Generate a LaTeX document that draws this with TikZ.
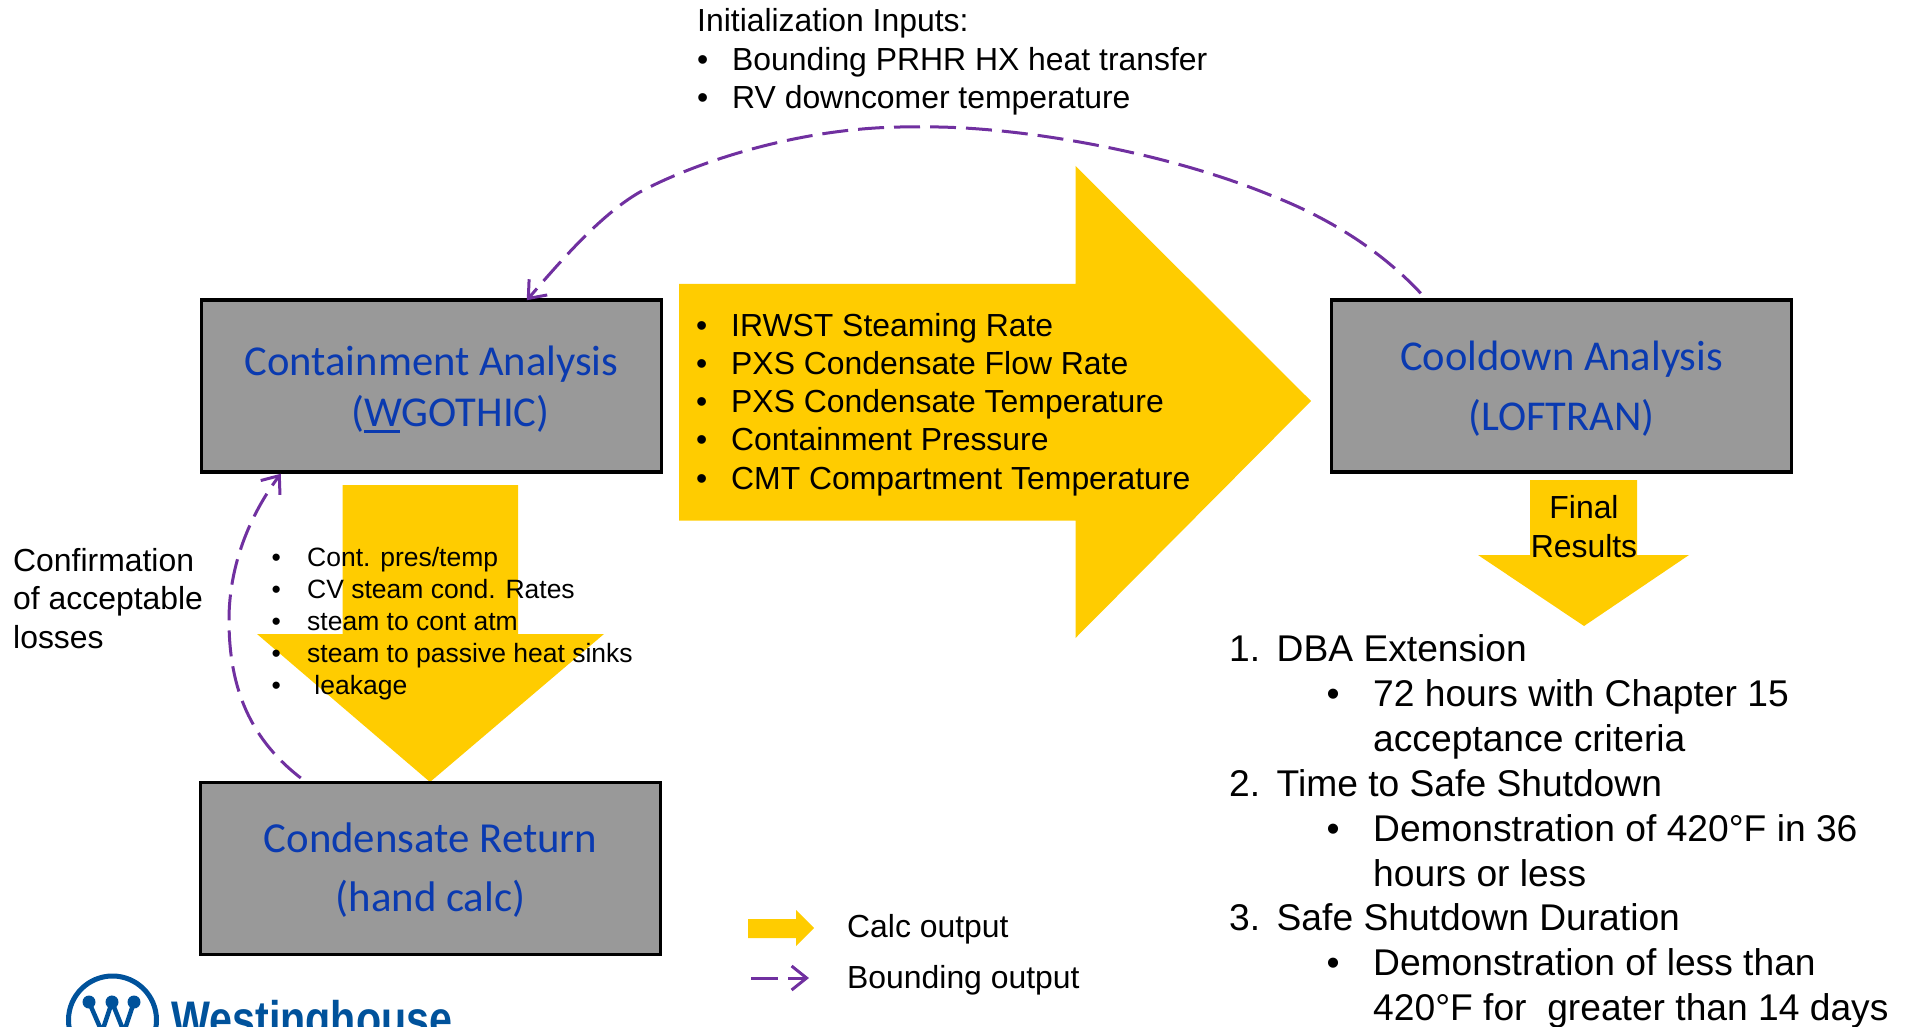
\documentclass[tikz,border=0pt]{standalone}
\usepackage{fontspec}
\usepackage{graphicx}
\setmainfont{Liberation Sans}
\newfontfamily\calibrifont{Carlito}
\usetikzlibrary{arrows.meta}
\definecolor{calcyellow}{HTML}{FFCC00}
\definecolor{boundpurple}{HTML}{7030A0}
\definecolor{boxgray}{HTML}{999999}
\definecolor{boxblue}{HTML}{0A3AB0}
\definecolor{wblue}{HTML}{00529B}
\newcommand{\twolines}[5]{\raisebox{#1}[0pt][0pt]{\fontsize{#2}{#3}\selectfont\begin{tabular}[b]{@{}c@{}}#4\\#5\end{tabular}}}
\newcommand{\fs}[2]{\fontsize{#1}{#2}\selectfont}
\tikzset{
  x=1pt,y=-1pt,
  calcarrow/.style={fill=calcyellow,draw=none},
  analysisbox/.style={draw=black,line width=3.5pt,fill=boxgray,text=boxblue,font=\calibrifont,inner sep=0pt,minimum height=172pt,minimum width=460pt},
  bound/.style={draw=boundpurple,line width=3pt,dash pattern=on 26pt off 10pt,-{Straight Barb[length=15pt,width=24pt,line width=3pt]}},
  listnode/.style={anchor=base west,inner sep=0pt},
  centernode/.style={anchor=base,inner sep=0pt},
}
\begin{document}
\begin{tikzpicture}
\useasboundingbox (0,0) rectangle (1907,1027);
% block arrows
\fill[calcarrow] (679,284) -- (1075.5,284) -- (1075.5,166) -- (1311,401) -- (1075.5,638) -- (1075.5,520.5) -- (679,520.5) -- cycle;
\fill[calcarrow] (342.5,485) -- (518,485) -- (518,634) -- (604,634) -- (430,782) -- (257,634) -- (342.5,634) -- cycle;
\fill[calcarrow] (1530,480) -- (1637,480) -- (1637,555) -- (1689,555) -- (1584,626) -- (1478,555) -- (1530,555) -- cycle;
\fill[calcarrow] (748,919) -- (796,919) -- (796,910) -- (814,928) -- (796,946) -- (796,938) -- (748,938) -- cycle;
% boxes
\node[analysisbox] (cont) at (431.5,386) {\twolines{-40pt}{42.6}{51}{Containment Analysis}{\hspace*{38pt}(\rlap{\rule[-7pt]{36pt}{3pt}}WGOTHIC)}};
\node[analysisbox] (cool) at (1561.5,386) {\twolines{-44pt}{42.5}{59.5}{Cooldown Analysis}{(LOFTRAN)}};
\node[analysisbox] (cond) at (430.5,868.7) {\twolines{-43pt}{42.8}{59}{Condensate Return}{(hand calc)}};
% bounding connectors
\draw[bound] ([xshift=91pt,yshift=5pt]cool.north west) .. controls (1385,255) and (1335,220) .. (1270,195) .. controls (1160,150) and (1010,125) .. (917,127) .. controls (800,125) and (690,165) .. (640,192) .. controls (600,215) and (560,262) .. ([xshift=327pt,yshift=-2pt]cont.north west);
\draw[bound] ([xshift=102pt,yshift=3pt]cond.north west) .. controls (245,735) and (229,680) .. (229,620) .. controls (229,565) and (250,515) .. ([xshift=81pt]cont.south west);
% texts
\node[listnode] (init) at (697,32) {\fs{31.9}{38.5}\begin{tabular}[t]{@{}p{35pt}@{}l@{}}\multicolumn{2}{@{}l@{}}{Initialization Inputs:}\\ •&Bounding PRHR HX heat transfer\\ •&RV downcomer temperature\end{tabular}};
\node[listnode] (inputs) at (696,336) {\fs{31.9}{38.3}\begin{tabular}[t]{@{}p{35pt}@{}l@{}}•&IRWST Steaming Rate\\ •&PXS Condensate Flow Rate\\ •&PXS Condensate Temperature\\ •&Containment Pressure\\ •&CMT Compartment Temperature\end{tabular}};
\node[listnode] (outputs) at (271.4,566) {\fs{26.5}{32}\begin{tabular}[t]{@{}p{35.6pt}@{}l@{}}•&Cont. pres/temp\\ •&CV steam cond. Rates\\ •&steam to cont atm\\ •&steam to passive heat sinks\\ •&\hspace*{7.3pt}leakage\end{tabular}};
\node[listnode] (confirm) at (13,571) {\fs{31.9}{38.5}\begin{tabular}[t]{@{}l@{}}Confirmation\\of acceptable\\losses\end{tabular}};
\node[centernode] (final) at (1584,518) {\fs{31.9}{39}\begin{tabular}[t]{@{}c@{}}Final\\Results\end{tabular}};
\node[listnode] (results) at (1229,661.5) {\fs{37.2}{44.9}\begin{tabular}[t]{@{}p{47.5pt}@{}p{50pt}@{}p{46.5pt}@{}l@{}}
1.&\multicolumn{3}{@{}l@{}}{DBA Extension}\\
&&•&72 hours with Chapter 15\\
&&&acceptance criteria\\
2.&\multicolumn{3}{@{}l@{}}{Time to Safe Shutdown}\\
&&•&Demonstration of 420°F in 36\\
&&&hours or less\\
3.&\multicolumn{3}{@{}l@{}}{Safe Shutdown Duration}\\
&&•&Demonstration of less than\\
&&&420°F for\ \ greater than 14 days
\end{tabular}};
% legend
\node[listnode,font=\fs{31.9}{38}] (legcalc) at (847,937) {Calc output};
\node[listnode,font=\fs{31.9}{38}] (legbound) at (847,988) {Bounding output};
\coordinate (legstart) at (751,978);
\coordinate (legend) at (809,978);
\draw[bound,dash pattern=on 27pt off 10pt] (legstart) -- (legend);
% logo
\begin{scope}
\clip (0,0) rectangle (1907,1027);
\draw[wblue,line width=5pt] (112.5,1020) circle[radius=44];
\fill[wblue] (89,1002) circle[radius=6.5] (112,1002) circle[radius=6.5] (134,1002) circle[radius=6.5];
\draw[wblue,line width=4.5pt] (89,1002) -- (102,1032) -- (112,1002) -- (124,1032) -- (134,1002);
\node[listnode,text=wblue] (logo) at (171,1036) {\scalebox{.825}[1]{\fs{50}{50}\bfseries Westinghouse}};
\end{scope}
\end{tikzpicture}
\end{document}
